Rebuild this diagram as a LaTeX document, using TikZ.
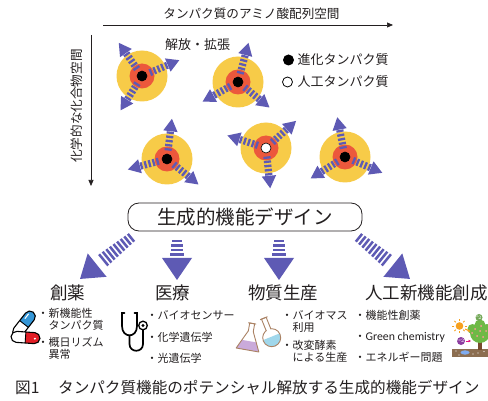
\documentclass[tikz,border=0pt]{standalone}
\usepackage{fontspec}
\setmainfont{Noto Sans CJK JP}
\newfontfamily\latinfont{Carlito}
\usetikzlibrary{arrows.meta,calc}

\definecolor{ringY}{RGB}{247,203,72}
\definecolor{ringR}{RGB}{236,88,60}
\definecolor{arrowV}{RGB}{94,90,180}
\definecolor{inkgray}{RGB}{35,31,32}
\definecolor{pillblue}{RGB}{52,150,215}
\definecolor{pillred}{RGB}{226,30,38}
\definecolor{flaskline}{RGB}{170,130,100}
\definecolor{flaskpurple}{RGB}{202,170,218}
\definecolor{flaskblue}{RGB}{160,215,235}
\definecolor{sunorange}{RGB}{246,160,30}
\definecolor{leafgreen}{RGB}{110,185,70}
\definecolor{trunkbrown}{RGB}{120,75,45}
\definecolor{soilbrown}{RGB}{140,110,80}
\definecolor{co2purple}{RGB}{140,60,160}

% protein with three striped arrows pointing outwards
\newcommand\burst[6]{%
  \fill[ringY] (#1,#2) circle (25.5);
  \fill[ringR] (#1,#2) circle (12.5);
  \foreach \ang in {#3,#4,#5}{%
    \begin{scope}[shift={(#1,#2)}, rotate=\ang]
      \foreach \rr in {8.5,12.7,16.9,21.1,25.3}
        \fill[arrowV] (\rr,-3.6) rectangle ({\rr+2.3},3.6);
      \fill[arrowV] (40.5,0) -- (28,7.2) -- (28,-7.2) -- cycle;
    \end{scope}}
  \filldraw[fill=#6, draw=black, line width=0.6pt] (#1,#2) circle (5);
}

% big striped arrow: start, direction angle, length, number of stripes
\newcommand\stripearrow[4]{%
  \begin{scope}[shift={#1}, rotate=#2]
    \foreach \i in {1,...,#4}{%
      \pgfmathsetmacro\xs{(\i-1)*4.4}
      \pgfmathsetmacro\hw{5+2.5*(\i-1)/#4}
      \fill[arrowV] (\xs,-\hw) rectangle ({\xs+2.5},\hw);}
    \fill[arrowV] (#3,0) -- ({#3-22},15) -- ({#3-22},-15) -- cycle;
  \end{scope}}

\begin{document}
\begin{tikzpicture}[x=1pt,y=-1pt,
  txt/.style={inner sep=0pt, text=inkgray, anchor=west},
  axis/.style={line width=0.7pt, draw=inkgray, -{Triangle[length=6pt,width=5pt]}},
  lbl/.style={font=\fontsize{13}{15}\selectfont},
  head/.style={font=\fontsize{17.5}{20}\selectfont},
  item/.style={font=\fontsize{11}{13}\selectfont},
  capsule/.style={rounded corners=5.5pt}]
\useasboundingbox (0,0) rectangle (488,401);
\fill[white] (0,0) rectangle (488,401);

% axes
\node[txt, anchor=center, font=\fontsize{12.6}{14}\selectfont] (seqlabel) at (251.5,14) {タンパク質のアミノ酸配列空間};
\coordinate (xa) at (103,25);
\coordinate (xb) at (393,25);
\draw[axis] (xa) -- (xb);
\node[txt, anchor=center, rotate=90, font=\fontsize{12.6}{14}\selectfont] (chemlabel) at (77,106) {化学的な化合物空間};
\coordinate (ya) at (91,35);
\coordinate (yb) at (91,186);
\draw[axis] (ya) -- (yb);

% proteins
\burst{142}{76}{125}{23}{238}{black}
\burst{238}{82}{75}{209}{321}{black}
\burst{167}{159}{83}{195}{321}{black}
\burst{266}{148}{162}{42}{276}{white}
\burst{345}{157}{101}{212}{337}{black}

\node[txt, anchor=center, lbl] (release) at (197.5,45) {解放・拡張};

% legend
\fill[black] (288.5,60) circle (5.5);
\node[txt, lbl] (evo) at (297.5,60) {進化タンパク質};
\filldraw[fill=white, draw=black, line width=0.8pt] (287.5,82) circle (5);
\node[txt, lbl] (art) at (297.5,82) {人工タンパク質};

% generative design
\node[draw=inkgray, line width=0.8pt, rounded corners=11pt, minimum width=234pt,
      minimum height=28pt, inner sep=0pt, text=inkgray,
      font=\fontsize{19.5}{22}\selectfont] (design) at (245,217) {生成的機能デザイン};

\stripearrow{(132,237)}{218.9}{66.8}{9}
\stripearrow{(177,240)}{270}{40}{4}
\stripearrow{(279,240)}{270}{40}{4}
\stripearrow{(358,237)}{-38.9}{66.8}{9}

% application fields
\node[txt, head] (drug) at (50,293) {創薬};
\node[txt, head] (med) at (155,293) {医療};
\node[txt, head] (prod) at (248,293) {物質生産};
\node[txt, head] (newfn) at (365,293) {人工新機能創成};

\node[txt, item] (d1) at (37.5,313) {・新機能性};
\node[txt, item] (d1b) at (48.5,325) {タンパク質};
\node[txt, item] (d2) at (37.5,342) {・概日リズム};
\node[txt, item] (d2b) at (48.5,354) {異常};

\node[txt, item] (m1) at (146.5,315) {・バイオセンサー};
\node[txt, item] (m2) at (146.5,337) {・化学遺伝学};
\node[txt, item] (m3) at (146.5,358) {・光遺伝学};

\node[txt, item] (p1) at (281.5,315) {・バイオマス};
\node[txt, item] (p1b) at (292.5,327) {利用};
\node[txt, item] (p2) at (281.5,345) {・改変酵素};
\node[txt, item] (p2b) at (292.5,357) {による生産};

\node[txt, item] (n1) at (354.5,315) {・機能性創薬};
\node[txt, item] (n2) at (354.5,337) {・{\latinfont\fontsize{11.8}{13}\selectfont Green chemistry}};
\node[txt, item] (n3) at (354.5,357) {・エネルギー問題};

% capsules
\begin{scope}[shift={(24,324)}, rotate=52]
  \fill[white, capsule] (-15,-5.5) rectangle (15,5.5);
  \begin{scope}
    \clip (0,-6) rectangle (16,6);
    \fill[pillblue, capsule] (-15,-5.5) rectangle (15,5.5);
  \end{scope}
  \draw[black, line width=1.1pt, capsule] (-15,-5.5) rectangle (15,5.5);
  \draw[black, line width=0.9pt] (0,-5.5) -- (0,5.5);
  \draw[white, line width=1.1pt, line cap=round] (5,-2.6) -- (10.5,-2.6);
\end{scope}
\begin{scope}[shift={(25.5,337.5)}, rotate=-4]
  \fill[white, capsule] (-14.5,-5.5) rectangle (14.5,5.5);
  \begin{scope}
    \clip (0,-6) rectangle (16,6);
    \fill[pillred, capsule] (-14.5,-5.5) rectangle (14.5,5.5);
  \end{scope}
  \draw[black, line width=1.1pt, capsule] (-14.5,-5.5) rectangle (14.5,5.5);
  \draw[black, line width=0.9pt] (0,-5.5) -- (0,5.5);
  \fill[white] (9.5,0.5) circle (1.1);
\end{scope}

% stethoscope
\begin{scope}[line width=1.7pt, line cap=round, black]
  \draw (124.5,313) -- (122,313) -- (122,326) .. controls (122,338.5) and (137,338.5) .. (137,326) -- (137,313) -- (134.5,313);
  \draw (129.5,336) -- (129.5,344) .. controls (129.5,353) and (143,353) .. (143,344) -- (143,330);
  \draw[line width=1.3pt] (143,325.5) circle (4.3);
  \fill (143,325.5) circle (1.7);
\end{scope}

% flasks
\begin{scope}[shift={(247.5,350)}, rotate=-10, line width=0.9pt]
  \fill[white] (-11.5,0) -- (-2.5,-19) -- (-2.5,-27) -- (2.5,-27) -- (2.5,-19) -- (11.5,0) -- cycle;
  \fill[flaskpurple] (-11.5,0) -- (-7.2,-9) -- (7.2,-9) -- (11.5,0) -- cycle;
  \draw[flaskline, line join=round] (-11.5,0) -- (-2.5,-19) -- (-2.5,-27) -- (2.5,-27) -- (2.5,-19) -- (11.5,0) -- cycle;
  \draw[flaskline] (-4,-27) -- (4,-27);
\end{scope}
\begin{scope}[shift={(271.7,337.7)}, rotate=22, line width=0.9pt]
  \fill[white] (0,0) circle (9);
  \fill[white] (-2.5,-21) rectangle (2.5,-7);
  \begin{scope}
    \clip (0,0) circle (9);
    \fill[flaskblue] (-10,-1) rectangle (10,10);
  \end{scope}
  \draw[flaskline] (0,0) circle (9);
  \fill[white] (-1.9,-10) rectangle (1.9,-7.5);
  \draw[flaskline] (-2.5,-8.6) -- (-2.5,-21) -- (2.5,-21) -- (2.5,-8.6);
  \draw[flaskline] (-4,-21) -- (4,-21);
\end{scope}

% photosynthesis tree
\fill[soilbrown] (452,349) rectangle (490,356.5);
\fill[flaskblue!80!blue] (465,352.5) ellipse (4.5 and 2.2);
\foreach \px/\py in {456/351, 473/354, 484/351.5, 459/355, 478/353}
  \fill[white] (\px,\py) circle (0.7);
\fill[trunkbrown] (477.5,338) rectangle (481.5,350);
\fill[leafgreen] (480,333) circle (10);
\fill[leafgreen] (472.5,329) circle (5);
\fill[leafgreen] (487,329) circle (5);
\fill[leafgreen] (480,325) circle (5.5);
\foreach \px/\py in {475/329, 481/326, 486/331, 477/336, 483/337, 472/333, 480/331}
  \fill[pink!80!red] (\px,\py) circle (1);
\fill[sunorange] (459.5,326) circle (3.8);
\foreach \ang in {0,45,...,315}
  \draw[sunorange, line width=0.8pt] ($(459.5,326)+(\ang:5.2)$) -- ($(459.5,326)+(\ang:7.2)$);
\draw[sunorange, line width=1pt, -{Triangle[length=2.5pt,width=2.5pt]}] (465,329) -- (470.5,331.5);
\fill[leafgreen!70!gray] (479,317.5) circle (3.5);
\node[inner sep=0pt, text=white, font=\fontsize{3}{3}\selectfont] (otwo) at (479,317.5) {O$_2$};
\fill[co2purple] (461,341) circle (4);
\node[inner sep=0pt, text=white, font=\fontsize{2.6}{3}\selectfont] (cotwo) at (461,341) {CO$_2$};
\draw[magenta!80!purple, line width=1pt, -{Triangle[length=2.5pt,width=2.5pt]}] (465.5,341) -- (471,341);

% caption
\node[txt, font=\fontsize{15.6}{18}\selectfont] (fig) at (15,388) {図1};
\node[txt, font=\fontsize{15.6}{18}\selectfont] (caption) at (58,388) {タンパク質機能のポテンシャル解放する生成的機能デザイン};
\end{tikzpicture}
\end{document}
